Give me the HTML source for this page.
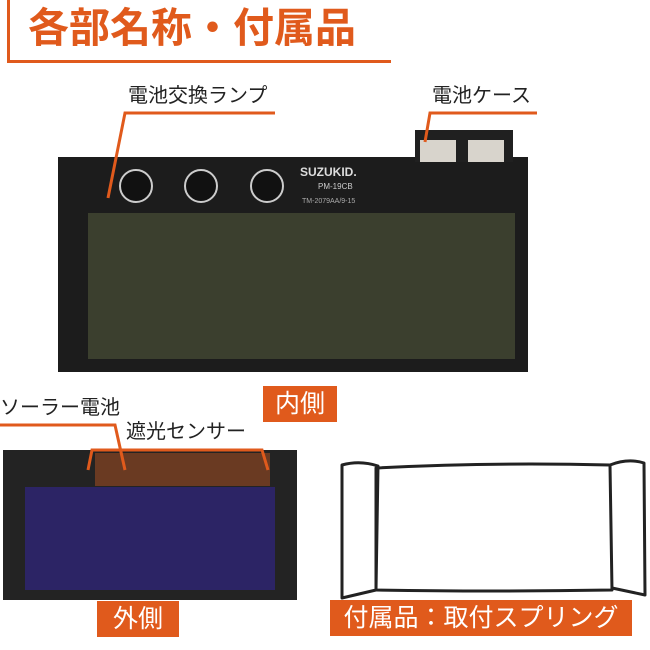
<!DOCTYPE html>
<html><head><meta charset="utf-8"><style>
body{margin:0;width:650px;height:650px;background:#fff;position:relative;overflow:hidden;font-family:"Liberation Sans","Noto Sans CJK JP",sans-serif}
.a{position:absolute}
.t{position:absolute;font-size:20px;color:#222;white-space:nowrap;line-height:1}
.lb{position:absolute;background:#e05a1c;color:#fff;font-size:25px;line-height:36px;text-align:center;white-space:nowrap}
</style></head><body>
<div class="a" style="left:7px;top:0;width:3px;height:62px;background:#e05a1c"></div>
<div class="a" style="left:7px;top:60px;width:384px;height:3px;background:#e05a1c"></div>
<div class="a" style="left:28px;top:4px;font-size:41px;font-weight:bold;color:#e05a1c;white-space:nowrap;line-height:48px">各部名称・付属品</div>

<div class="t" style="left:128px;top:86px">電池交換ランプ</div>
<div class="t" style="left:432px;top:86px">電池ケース</div>

<svg class="a" style="left:0;top:0" width="650" height="650">
<!-- main frame -->
<rect x="58" y="157" width="470" height="215" fill="#1c1c1c"/>
<rect x="415" y="130" width="98" height="32" fill="#202020"/>
<rect x="420" y="140" width="36" height="22" fill="#d8d4cc"/>
<rect x="468" y="140" width="36" height="22" fill="#d8d4cc"/>
<rect x="88" y="213" width="427" height="146" fill="#3b3f2e"/>
<g fill="#111" stroke="#ccc" stroke-width="2">
<circle cx="136" cy="186" r="16"/><circle cx="201" cy="186" r="16"/><circle cx="267" cy="186" r="16"/></g>
<text x="300" y="176" fill="#ddd" font-size="12" font-weight="bold" font-family="Liberation Sans">SUZUKID.</text>
<text x="318" y="189" fill="#ccc" font-size="8" font-family="Liberation Sans">PM-19CB</text>
<text x="302" y="203" fill="#aaa" font-size="7" font-family="Liberation Sans">TM-2079AA/9-15</text>
<!-- leaders -->
<g stroke="#e05a1c" stroke-width="3" fill="none">
<polyline points="275,113 125,113 108,198"/>
<polyline points="537,113 430,113 425,142"/>
</g>
<!-- outside panel -->
<rect x="3" y="450" width="294" height="150" fill="#232323"/>
<rect x="95" y="453" width="175" height="33" fill="#6a3a22"/>
<rect x="25" y="487" width="250" height="103" fill="#2c2465"/>
<g stroke="#e05a1c" stroke-width="3" fill="none">
<polyline points="0,425 115,425 125,470"/>
<polyline points="88,470 92,450 262,450 268,470"/>
</g>
<!-- spring -->
<g stroke="#222" stroke-width="3" fill="none" stroke-linejoin="round">
<path d="M376,468 Q490,462 610,465 L612,590 Q490,592 376,590 Z"/>
<path d="M342,465 Q360,460 378,466 L376,590 L342,598 Z"/>
<path d="M610,465 Q628,458 644,463 L645,595 L612,588"/>
</g>
</svg>

<div class="lb" style="left:263px;top:386px;width:74px">内側</div>
<div class="t" style="left:0;top:398px">ソーラー電池</div>
<div class="t" style="left:126px;top:422px">遮光センサー</div>
<div class="lb" style="left:97px;top:601px;width:82px">外側</div>
<div class="lb" style="left:330px;top:600px;width:302px">付属品：取付スプリング</div>
</body></html>
